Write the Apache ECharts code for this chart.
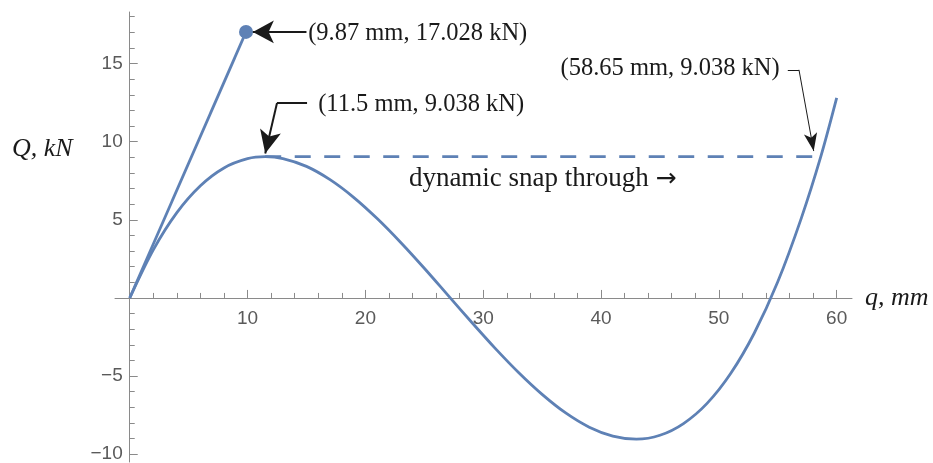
<!DOCTYPE html>
<html>
<head>
<meta charset="utf-8">
<title>Snap-through load path</title>
<script src="https://cdn.jsdelivr.net/npm/echarts@6/dist/echarts.min.js"></script>
<style>
  html, body { margin: 0; padding: 0; background: #fff; }
  #chart { width: 933px; height: 463px; }
</style>
</head>
<body>
<div id="chart"></div>
<script>
// equilibrium path: displacement q (mm) vs load Q (kN)
var qValues = [0, 2, 4, 6, 8, 10, 11.5, 13, 15, 17, 19, 21, 23, 25, 27, 29, 31, 33, 35, 37, 39, 41, 43, 45, 47, 49, 51, 53, 55, 57, 58.65, 60];
var loadValues = [0, 3.08, 5.46, 7.18, 8.32, 8.91, 9.038, 8.92, 8.42, 7.57, 6.44, 5.08, 3.55, 1.90, 0.18, -1.54, -3.21, -4.77, -6.17, -7.36, -8.27, -8.84, -9.04, -8.79, -8.04, -6.75, -4.84, -2.26, 1.03, 5.11, 9.038, 12.80];

// linear branch up to the marked point
var linearQ = [0, 9.87];
var linearLoad = [0, 17.028];

// dynamic snap through at constant load
var snapQ = [11.5, 58.65];
var snapLoad = [9.038, 9.038];

// ticks
var xMajorTicks = [10, 20, 30, 40, 50, 60];
var xMinorTicks = [2, 4, 6, 8, 12, 14, 16, 18, 22, 24, 26, 28, 32, 34, 36, 38, 42, 44, 46, 48, 52, 54, 56, 58];
var yMajorTicks = [-10, -5, 5, 10, 15];
var yMinorTicks = [-9, -8, -7, -6, -4, -3, -2, -1, 1, 2, 3, 4, 6, 7, 8, 9, 11, 12, 13, 14, 16, 17, 18];

// annotation texts
var peakLabel = '(9.87 mm, 17.028 kN)';
var limitLabel = '(11.5 mm, 9.038 kN)';
var jumpLabel = '(58.65 mm, 9.038 kN)';
var snapLabel = 'dynamic snap through {arr|\u2192}';

var blue = '#5e81b5';
var axisGray = '#8a8a8a';
var tickText = '#5a5a5a';
var ink = '#1a1a1a';
var serif = '"Liberation Serif", "Times New Roman", serif';
var sans = '"Liberation Sans", Arial, sans-serif';

// plot frame
var W = 933, H = 463;
var grid = { left: 115, right: 81, top: 12, bottom: 1 };
var xRange = [-1.25, 61.3];
var yRange = [-10.5, 18.3];

// axes cross at the origin: shift them from the grid edges onto zero
var xAxisShift = -(H - grid.top - grid.bottom) * (0 - yRange[0]) / (yRange[1] - yRange[0]);
var yAxisShift = -(W - grid.left - grid.right) * (0 - xRange[0]) / (xRange[1] - xRange[0]);

function zip(a, b) {
    return a.map(function (v, i) { return [v, b[i]]; });
}

function minus(v) {
    return v < 0 ? '\u2212' + (-v) : String(v);
}

function xAxis(ticks, len, main) {
    return {
        type: 'value',
        min: xRange[0],
        max: xRange[1],
        position: 'bottom',
        offset: xAxisShift,
        axisLine: { show: main, onZero: false, lineStyle: { color: axisGray, width: 1 } },
        axisTick: { show: true, inside: true, length: len, customValues: ticks, lineStyle: { color: axisGray, width: 1 } },
        axisLabel: main ? {
            customValues: ticks, margin: 11, color: tickText, fontSize: 19, fontFamily: sans
        } : { show: false },
        splitLine: { show: false },
        name: main ? 'q, mm' : '',
        nameLocation: 'end',
        nameGap: 13,
        nameTextStyle: { fontFamily: serif, fontStyle: 'italic', fontSize: 26, color: ink, padding: [0, 0, 16, 0] }
    };
}

function yAxis(ticks, len, main) {
    return {
        type: 'value',
        min: yRange[0],
        max: yRange[1],
        position: 'left',
        offset: yAxisShift,
        axisLine: { show: main, onZero: false, lineStyle: { color: axisGray, width: 1 } },
        axisTick: { show: true, inside: true, length: len, customValues: ticks, lineStyle: { color: axisGray, width: 1 } },
        axisLabel: main ? {
            customValues: ticks, margin: 7, color: tickText, fontSize: 19, fontFamily: sans, formatter: minus
        } : { show: false },
        splitLine: { show: false }
    };
}

function arrowSegment(from, to, width, head) {
    return [
        { coord: from, symbol: 'none', lineStyle: { color: ink, width: width, type: 'solid' } },
        { coord: to, symbol: head ? 'arrow' : 'none', symbolSize: head || 0 }
    ];
}

function textPoint(coord, text, position, size) {
    return {
        coord: coord,
        symbol: 'circle',
        symbolSize: 1,
        itemStyle: { color: 'rgba(0,0,0,0)' },
        label: {
            show: true,
            formatter: text,
            position: position,
            distance: 0,
            fontFamily: serif,
            fontSize: size,
            color: ink,
            rich: {
                arr: { fontFamily: '"DejaVu Sans", sans-serif', fontSize: size - 2, color: ink }
            }
        }
    };
}

var chart = echarts.init(document.getElementById('chart'));

var option = {
    animation: false,
    backgroundColor: '#fff',
    grid: { left: grid.left, right: grid.right, top: grid.top, bottom: grid.bottom, containLabel: false, outerBoundsMode: 'none' },
    xAxis: [xAxis(xMajorTicks, 8, true), xAxis(xMinorTicks, 5, false)],
    yAxis: [yAxis(yMajorTicks, 8, true), yAxis(yMinorTicks, 5, false)],
    graphic: [{
        type: 'text',
        left: 12,
        top: 136,
        style: { text: 'Q, kN', font: 'italic 26px ' + serif, fill: ink }
    }],
    series: [
        {
            name: 'equilibrium path',
            type: 'line',
            data: zip(qValues, loadValues),
            smooth: 0.3,
            showSymbol: false,
            lineStyle: { color: blue, width: 2.8 },
            itemStyle: { color: blue }
        },
        {
            name: 'linear branch',
            type: 'line',
            data: zip(linearQ, linearLoad).map(function (p, i) {
                return i === 0 ? { value: p, symbol: 'none' } : { value: p, symbol: 'circle', symbolSize: 14 };
            }),
            showSymbol: true,
            lineStyle: { color: blue, width: 2.8 },
            itemStyle: { color: blue }
        },
        {
            name: 'snap through',
            type: 'line',
            data: zip(snapQ, snapLoad),
            showSymbol: false,
            lineStyle: { color: blue, width: 2.8, type: [16, 13.5] },
            itemStyle: { color: blue },
            markLine: {
                silent: true,
                animation: false,
                label: { show: false },
                data: [
                    arrowSegment([15.0, 17.028], [10.45, 17.028], 2, [17, 21]),
                    arrowSegment([15.05, 12.47], [12.5, 12.47], 2, null),
                    arrowSegment([12.5, 12.47], [11.5, 9.25], 2, [16, 23]),
                    arrowSegment([55.85, 14.6], [56.8, 14.6], 1, null),
                    arrowSegment([56.8, 14.6], [58.05, 9.4], 1, [10, 18])
                ]
            },
            markPoint: {
                silent: true,
                animation: false,
                data: [
                    textPoint([15.1, 16.9], peakLabel, 'right', 24.5),
                    textPoint([15.95, 12.4], limitLabel, 'right', 24.5),
                    textPoint([55.2, 14.7], jumpLabel, 'left', 24.5),
                    textPoint([35.05, 7.6], snapLabel, 'inside', 27)
                ]
            }
        }
    ]
};

chart.setOption(option);
</script>
</body>
</html>
